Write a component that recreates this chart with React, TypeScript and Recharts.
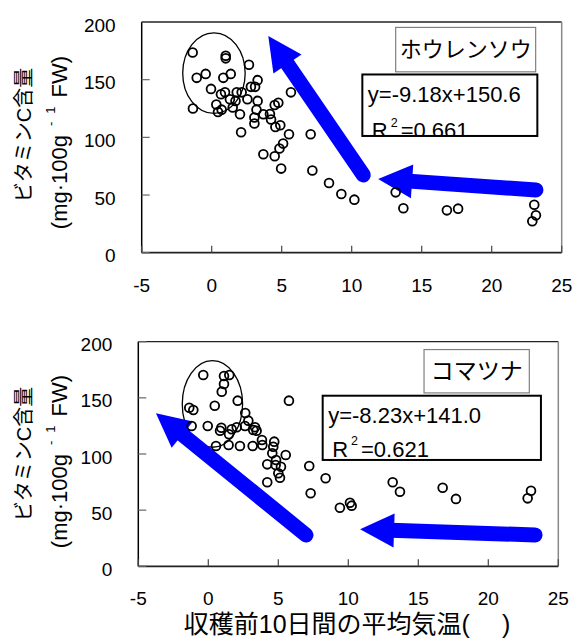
import React from 'react';
import { ScatterChart, Scatter, XAxis, YAxis, ReferenceLine, ReferenceArea } from 'recharts';

// ---- data ----
const xTicks = [-5, 0, 5, 10, 15, 20, 25];
const yTicks = [0, 50, 100, 150, 200];

const spinachTemp = [
  -1.36, 1.0, 1.0, 2.66, -0.43, -1.07, 0.83, 1.36, -0.05, 3.28, 2.8, 3.1, 0.95, 0.66, 1.79, 2.14,
  1.3, 1.7, 2.55, 3.28, 0.33, -1.34, 0.71, 0.45, 1.5, 2.02, 3.2, 4.5, 4.76, 5.66, 3.69, 4.16,
  3.05, 3.05, 4.24, 4.55, 4.9, 2.1, 5.52, 7.07, 5.1, 4.84, 3.69, 4.5, 4.96, 7.19, 8.38, 9.26,
  10.19, 13.14, 13.69, 16.8, 17.6, 23.04, 23.16, 22.9,
];
const spinachVitC = [
  173.6, 170.7, 168.5, 162.9, 155, 151.6, 151.6, 155, 142, 149.6, 143.8, 143.8, 139, 137.4, 139, 139,
  133, 131.6, 133, 131.6, 128.5, 125, 124, 122, 125.9, 120, 124, 128, 129.9, 139, 120, 120.3,
  117.2, 112, 115.5, 109, 110.5, 104.4, 102.7, 102.7, 94.6, 90.3, 85.3, 83.6, 72.9, 71.2, 60.4, 50.9,
  46, 52.3, 38.5, 36.7, 38.2, 41.6, 32.4, 27.2,
];

const komatsunaTemp = [
  -0.36, 1.12, 1.5, 1.12, 0.96, 2.1, 5.76, -1.36, -1.07, 0.46, 2.64, -1.19, -0.04, 0.93, 0.84, 1.67,
  2.03, 2.62, 2.86, 3.34, 3.45, 3.21, 1.48, 0.55, 1.45, 2.26, 3.17, 3.83, 3.86, 4.71, 4.64, 4.57,
  5.53, 4.21, 4.84, 4.81, 5.19, 5.0, 5.12, 4.21, 7.21, 8.38, 7.31, 9.4, 10.12, 10.24, 13.17, 13.69,
  16.74, 17.69, 23.05, 22.81,
];
const komatsunaVitC = [
  170.3, 169.5, 170.3, 162.3, 155.5, 147.5, 147.5, 141.2, 139.2, 143, 136.5, 125, 125, 123.4, 120.7, 122,
  123.8, 125, 129.7, 123.8, 120.7, 121.4, 117.5, 107.1, 108, 107.1, 107.1, 112.5, 108, 111, 106.5, 100.6,
  99.1, 90.8, 94.7, 90.2, 88.7, 82.8, 78.9, 74.8, 89.3, 78.4, 65, 52.2, 56.6, 54, 74.8, 66.4,
  70, 60, 67.3, 60.5,
];

const spinachName = 'ホウレンソウ';
const komatsunaName = 'コマツナ';
const spinachEq = 'y=-9.18x+150.6';
const spinachR2 = '=0.661';
const komatsunaEq = 'y=-8.23x+141.0';
const komatsunaR2 = '=0.621';

const yTitle = 'ビタミンC含量';
const yUnitMain = '(mg·100g';
const yUnitSup1 = '-';
const yUnitSup2 = '1';
const yUnitEnd = 'FW)';
const xTitle = '収穫前10日間の平均気温(\u3000 )';

// annotation anchors (data coordinates)
const spinachEllipse = { x1: -2.07, x2: 2.39, y1: 120.7, y2: 190.6 };
const komatsunaEllipse = { x1: -1.86, x2: 2.45, y1: 106, y2: 183.1 };
const spinachNameBox = { x1: 13.14, x2: 23.14, y1: 156.8, y2: 195.3 };
const spinachEqBox = { x1: 10.76, x2: 23.26, y1: 101.2, y2: 154.5 };
const komatsunaNameBox = { x1: 15.41, x2: 22.93, y1: 154.4, y2: 193 };
const komatsunaEqBox = { x1: 8.17, x2: 23.76, y1: 94.7, y2: 151.9 };
const spinachArrows = [
  { tail: { x: 10.83, y: 67.4 }, tip: { x: 4.04, y: 187.9 } },
  { tail: { x: 23.16, y: 54.4 }, tip: { x: 11.89, y: 63.9 } },
];
const komatsunaArrows = [
  { tail: { x: 6.98, y: 27.9 }, tip: { x: -3.74, y: 136.3 } },
  { tail: { x: 23.34, y: 27.9 }, tip: { x: 10.84, y: 32.9 } },
];

const FONT = "'Liberation Sans', Arial, 'Noto Sans CJK JP', sans-serif";
const BLUE = '#0000FF';

const spinachData = spinachTemp.map((t, i) => ({ temp: t, vitc: spinachVitC[i] }));
const komatsunaData = komatsunaTemp.map((t, i) => ({ temp: t, vitc: komatsunaVitC[i] }));

// ---- shapes ----
const YTick = (props: any) => {
  const { x, y, payload } = props;
  return (
    <g>
      <line x1={x} x2={x + 8} y1={y} y2={y} stroke="#666" strokeWidth={1.2} />
      <text x={x - 26} y={y + 9.5} textAnchor="end" fontSize={19} fontFamily={FONT} fill="#000">
        {payload.value}
      </text>
    </g>
  );
};

const XTick = (props: any) => {
  const { x, y, payload } = props;
  return (
    <g>
      <line x1={x} x2={x} y1={y} y2={y - 7} stroke="#444" strokeWidth={1.2} />
      <text x={x} y={y + 39} textAnchor="middle" fontSize={19} fontFamily={FONT} fill="#000">
        {payload.value}
      </text>
    </g>
  );
};

const Dot = (p: any) => (
  <circle cx={p.cx} cy={p.cy} r={4.4} fill="none" stroke="#000" strokeWidth={1.8} />
);

const EllipseShape = (p: any) => (
  <ellipse
    cx={p.x + p.width / 2}
    cy={p.y + p.height / 2}
    rx={p.width / 2}
    ry={p.height / 2}
    fill="none"
    stroke="#000"
    strokeWidth={1.3}
  />
);

const NameBox = (p: any) => (
  <g>
    <rect x={p.x} y={p.y} width={p.width} height={p.height} fill="#fff" stroke="#808080" strokeWidth={1.2} />
    <text
      x={p.x + p.width / 2}
      y={p.y + p.height / 2}
      textAnchor="middle"
      dominantBaseline="central"
      fontSize={p.fs}
      fontFamily={FONT}
      fill="#000"
    >
      {p.label}
    </text>
  </g>
);

const EqBox = (p: any) => (
  <g>
    <defs>
      <clipPath id={p.cid}>
        <rect x={p.x} y={p.y} width={p.width} height={p.height} />
      </clipPath>
    </defs>
    <rect x={p.x} y={p.y} width={p.width} height={p.height} fill="#fff" stroke="#000" strokeWidth={2} />
    <g clipPath={`url(#${p.cid})`} fontFamily={FONT} fontSize={22} fill="#000">
      <text x={p.x + 5.5} y={p.y + 27.5}>{p.eq}</text>
      <text x={p.x + 9.5} y={p.y + p.r2off}>
        <tspan>R</tspan>
        <tspan dx={3} dy={-11.7} fontSize={12.5}>2</tspan>
        <tspan dx={3} dy={11.7}>{p.r2}</tspan>
      </text>
    </g>
  </g>
);

const ArrowShape = (p: any) => {
  const { x1, y1, x2, y2 } = p;
  const dx = x2 - x1;
  const dy = y2 - y1;
  const len = Math.hypot(dx, dy) || 1;
  const ux = dx / len;
  const uy = dy / len;
  const nx = -uy;
  const ny = ux;
  const headLen = 34;
  const headHalf = 17;
  const bx = x2 - ux * headLen;
  const by = y2 - uy * headLen;
  return (
    <g>
      <line x1={x1} y1={y1} x2={bx + ux * 3} y2={by + uy * 3} stroke={BLUE} strokeWidth={15} strokeLinecap="round" />
      <polygon
        points={`${x2},${y2} ${bx + nx * headHalf},${by + ny * headHalf} ${bx - nx * headHalf},${by - ny * headHalf}`}
        fill={BLUE}
      />
    </g>
  );
};

type PanelProps = {
  data: { temp: number; vitc: number }[];
  height: number;
  margin: { top: number; right: number; left: number; bottom: number };
  yWidth: number;
  xHeight: number;
  ellipse: { x1: number; x2: number; y1: number; y2: number };
  nameBox: { x1: number; x2: number; y1: number; y2: number };
  eqBox: { x1: number; x2: number; y1: number; y2: number };
  name: string;
  nameFs: number;
  eq: string;
  r2: string;
  r2off: number;
  arrows: { tail: { x: number; y: number }; tip: { x: number; y: number } }[];
  cid: string;
};

const Panel = (P: PanelProps) => (
  <ScatterChart width={573} height={P.height} margin={P.margin}>
    <XAxis
      type="number"
      dataKey="temp"
      domain={[-5, 25]}
      ticks={xTicks}
      interval={0}
      allowDataOverflow
      height={P.xHeight}
      tickSize={0}
      tickMargin={0}
      tickLine={false}
      axisLine={{ stroke: '#222', strokeWidth: 1.8 }}
      tick={(p: any) => <XTick {...p} />}
    />
    <YAxis
      type="number"
      dataKey="vitc"
      domain={[0, 200]}
      ticks={yTicks}
      interval={0}
      allowDataOverflow
      width={P.yWidth}
      tickSize={0}
      tickMargin={0}
      tickLine={false}
      axisLine={{ stroke: '#000', strokeWidth: 1.5 }}
      tick={(p: any) => <YTick {...p} />}
    />
    <ReferenceLine y={200} stroke="#222" strokeWidth={1.3} />
    <ReferenceLine x={25} stroke="#888" strokeWidth={1.5} />
    <Scatter data={P.data} isAnimationActive={false} shape={(p: any) => <Dot {...p} />} />
    <ReferenceArea {...P.ellipse} shape={(p: any) => <EllipseShape {...p} />} />
    <ReferenceArea {...P.nameBox} shape={(p: any) => <NameBox {...p} label={P.name} fs={P.nameFs} />} />
    <ReferenceArea
      {...P.eqBox}
      shape={(p: any) => <EqBox {...p} eq={P.eq} r2={P.r2} r2off={P.r2off} cid={P.cid} />}
    />
    {P.arrows.map((a, i) => (
      <ReferenceLine
        key={i}
        segment={[a.tail, a.tip]}
        shape={(p: any) => <ArrowShape {...p} />}
      />
    ))}
  </ScatterChart>
);

const AxisTitle = ({ cy1, cy2 }: { cy1: number; cy2: number }) => (
  <g fontFamily={FONT} fill="#000">
    <text
      transform={`translate(24,${cy1}) rotate(-90)`}
      textAnchor="middle"
      dominantBaseline="central"
      fontSize={20}
    >
      {yTitle}
    </text>
    <text
      transform={`translate(59,${cy2}) rotate(-90)`}
      textAnchor="middle"
      dominantBaseline="central"
      fontSize={22}
    >
      <tspan>{yUnitMain}</tspan>
      <tspan dx={9} dy={-9} fontSize={13}>{yUnitSup1}</tspan>
      <tspan dx={8} fontSize={13}>{yUnitSup2}</tspan>
      <tspan dx={9} dy={9}>{yUnitEnd}</tspan>
    </text>
  </g>
);

export default function App() {
  return (
    <div style={{ position: 'absolute', left: 0, top: 0, width: 573, height: 639, background: '#fff', overflow: 'hidden' }}>
      <div style={{ position: 'absolute', left: 0, top: 0 }}>
        <Panel
          data={spinachData}
          height={300}
          margin={{ top: 22, right: 11.3, left: 0, bottom: 0 }}
          yWidth={141.7}
          xHeight={47.3}
          ellipse={spinachEllipse}
          nameBox={spinachNameBox}
          eqBox={spinachEqBox}
          name={spinachName}
          nameFs={22}
          eq={spinachEq}
          r2={spinachR2}
          r2off={64}
          arrows={spinachArrows}
          cid="clipEqTop"
        />
      </div>
      <div style={{ position: 'absolute', left: 0, top: 300 }}>
        <Panel
          data={komatsunaData}
          height={339}
          margin={{ top: 41.7, right: 14.7, left: 0, bottom: 0 }}
          yWidth={138.3}
          xHeight={72.7}
          ellipse={komatsunaEllipse}
          nameBox={komatsunaNameBox}
          eqBox={komatsunaEqBox}
          name={komatsunaName}
          nameFs={23}
          eq={komatsunaEq}
          r2={komatsunaR2}
          r2off={61}
          arrows={komatsunaArrows}
          cid="clipEqBottom"
        />
      </div>
      <svg width={573} height={639} style={{ position: 'absolute', left: 0, top: 0, pointerEvents: 'none' }}>
        <AxisTitle cy1={135} cy2={142.5} />
        <AxisTitle cy1={454} cy2={461.5} />
        <text x={347} y={633} textAnchor="middle" fontSize={25} fontFamily={FONT} fill="#000">
          {xTitle}
        </text>
      </svg>
    </div>
  );
}
